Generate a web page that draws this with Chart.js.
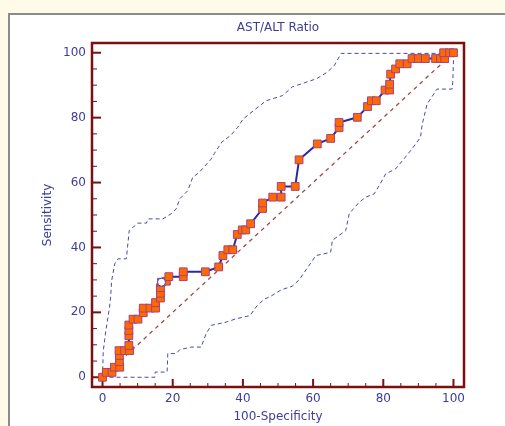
<!DOCTYPE html>
<html>
<head>
<meta charset="utf-8">
<script src="https://cdn.jsdelivr.net/npm/chart.js@4.4.1/dist/chart.umd.min.js"></script>
<style>
  html, body { margin: 0; padding: 0; background: #fffbe8; overflow: hidden; }
  #panel { position: absolute; left: 8px; top: 13px; width: 520px; height: 440px; background: #fff; border: 2px solid #8c8c8c; box-sizing: border-box; }
  #wrap { position: absolute; left: 0; top: 0; width: 505px; height: 426px; }
</style>
</head>
<body>
<div id="panel"></div>
<div id="wrap"><canvas id="roc" width="505" height="426"></canvas></div>
<script>
// ROC curve points (100-Specificity, Sensitivity)
const rocX = [0, 1.1, 2.7, 3.4, 4.9, 4.8, 4.8, 4.7, 6.3, 7.7, 7.5, 7.5, 7.5, 7.5, 8.7, 10.1, 11.6, 11.6, 13.5, 15.1,
  15.1, 16.5, 16.5, 16.5, 16.8, 18.2, 18.9, 23, 23, 29.3, 33.1, 34.3, 35.7, 37.1, 38.4, 39.8, 40.8, 42.2, 45.6, 45.6,
  48.5, 50.9, 50.9, 54.9, 56, 61.2, 65, 67.4, 67.4, 72.6, 75.5, 76.6, 78, 80.5, 81.8, 81.8, 82.1, 83.5, 84.7, 86.8,
  88.2, 90, 92, 94.9, 96.3, 97.5, 97.2, 98.9, 100];
const rocY = [0, 1.5, 1.5, 3.1, 3.1, 4.8, 6.7, 8.2, 8.2, 8.2, 9.8, 12.8, 14.4, 16.1, 17.9, 17.9, 19.9, 21.3, 21.3, 21.3,
  23, 24.4, 25.9, 27.6, 29.3, 29.6, 31, 31, 32.5, 32.5, 34, 37.5, 39.3, 39.3, 44, 45.4, 45.4, 47.3, 52, 53.7,
  55.5, 55.5, 58.8, 58.8, 67, 71.9, 73.6, 76.9, 78.5, 80.1, 83.4, 85.2, 85.2, 88.5, 88.5, 90.3, 93.4, 95, 96.6, 96.6,
  98.2, 98.2, 98.2, 98.2, 98.2, 98.2, 100, 100, 100];

// 95% confidence bounds
const upperX = [0, 0.2, 0.9, 2, 2.3, 2.6, 3.5, 4.4, 6.8, 7.6, 10.1, 12.5, 13, 17.2, 19.6, 21, 22, 24.3, 25.7, 27.6,
  31, 31.9, 34, 36.5, 38.5, 40, 41.8, 44, 46.6, 51.3, 54.1, 58, 61, 64, 66, 68, 100];
const upperY = [0, 8, 14, 21.6, 24.7, 29.8, 35, 36.5, 36.5, 45.2, 47.5, 47.5, 48.8, 48.8, 50.4, 51.9, 55, 57.5, 61.6, 63.2,
  67.3, 69, 72.5, 74.5, 77, 79.5, 81.1, 83, 85.2, 86.8, 89.5, 90.9, 92, 94, 96, 99.8, 99.8];
const lowerX = [0, 14.9, 15, 18.4, 18.6, 21, 22, 25.3, 28.1, 29.5, 31, 35.2, 38, 42, 44, 46, 48, 51, 54, 56,
  60.8, 65, 65.5, 69.3, 70.3, 73.1, 75, 77.4, 78.8, 80.7, 83.5, 85.9, 88.2, 90.6, 91.1, 92.5, 95.3, 99.6, 99.8, 100, 100];
const lowerY = [0, 0, 1.6, 1.6, 7.3, 7.3, 8.5, 9.3, 9.3, 13.4, 16, 17, 18, 19, 22, 24, 25, 27, 28, 30,
  37.5, 38.5, 42.2, 45.2, 50.4, 53.9, 55.5, 56.5, 59, 62.7, 64.2, 67.3, 70.4, 73.9, 78, 84.2, 88.8, 88.8, 90.9, 97.5, 100];

// reference diagonal and the criterion point
const diagX = [0, 100];
const diagY = [0, 100];
const cutX = [16.8];
const cutY = [29.3];

const xTicks = [0, 20, 40, 60, 80, 100];
const yTicks = [0, 20, 40, 60, 80, 100];
const minorStep = 5;

const textColor = '#3d3d98';
const frameColor = '#7a1010';
const font = { family: 'DejaVu Sans', size: 12 };

const pts = (xs, ys) => xs.map((x, i) => ({ x: x, y: ys[i] }));

// box round the plot plus inward tick marks
const framePlugin = {
  id: 'frame',
  beforeDatasetsDraw(chart) {
    const { ctx, chartArea: a, scales: { x, y } } = chart;
    ctx.save();
    ctx.strokeStyle = frameColor;
    ctx.lineWidth = 2.5;
    ctx.strokeRect(a.left, a.top, a.right - a.left, a.bottom - a.top);
    for (let v = 0; v <= 100; v += minorStep) {
      const major = v % 20 === 0;
      ctx.lineWidth = major ? 2 : 1;
      const px = x.getPixelForValue(v);
      ctx.beginPath();
      ctx.moveTo(px, a.bottom);
      ctx.lineTo(px, a.bottom - (major ? 8 : 4));
      ctx.stroke();
      const py = y.getPixelForValue(v);
      ctx.beginPath();
      ctx.moveTo(a.left, py);
      ctx.lineTo(a.left + (major ? 9 : 5), py);
      ctx.stroke();
    }
    ctx.restore();
  },
  afterDraw(chart) {
    const { ctx, chartArea: a } = chart;
    ctx.save();
    ctx.fillStyle = textColor;
    ctx.font = '12px "DejaVu Sans"';
    ctx.textAlign = 'center';
    ctx.textBaseline = 'middle';
    ctx.fillText('AST/ALT Ratio', (a.left + a.right) / 2, 28);
    ctx.restore();
  }
};

new Chart(document.getElementById('roc'), {
  type: 'scatter',
  data: {
    datasets: [
      {
        data: pts(cutX, cutY),
        pointStyle: 'circle',
        pointRadius: 4,
        pointBackgroundColor: '#ffffff',
        pointBorderColor: '#4040b0',
        pointBorderWidth: 1,
        showLine: false
      },
      {
        data: pts(rocX, rocY),
        showLine: true,
        borderColor: '#2b2b9a',
        borderWidth: 2,
        pointStyle: 'rect',
        pointRadius: 5.5,
        pointBackgroundColor: '#ff6a00',
        pointBorderColor: '#a8407e',
        pointBorderWidth: 1
      },
      {
        data: pts(upperX, upperY),
        showLine: true,
        borderColor: '#4848b0',
        borderWidth: 1,
        borderDash: [4, 3],
        pointRadius: 0
      },
      {
        data: pts(lowerX, lowerY),
        showLine: true,
        borderColor: '#4848b0',
        borderWidth: 1,
        borderDash: [4, 3],
        pointRadius: 0
      },
      {
        data: pts(diagX, diagY),
        showLine: true,
        borderColor: '#a04848',
        borderWidth: 1.3,
        borderDash: [4, 4],
        pointRadius: 0
      }
    ]
  },
  options: {
    responsive: false,
    animation: false,
    layout: { padding: { top: 43, right: 41, bottom: 0, left: 34 } },
    plugins: { legend: { display: false }, tooltip: { enabled: false } },
    scales: {
      x: {
        type: 'linear',
        min: -3,
        max: 103,
        afterBuildTicks: s => { s.ticks = xTicks.map(v => ({ value: v })); },
        afterFit: s => { s.height = 39; },
        grid: { display: false, drawTicks: false },
        border: { display: false },
        ticks: { padding: 5, color: textColor, font: font, maxRotation: 0 },
        title: { display: true, text: '100-Specificity', color: textColor, font: font, padding: { top: 0, bottom: 2 } }
      },
      y: {
        type: 'linear',
        min: -3,
        max: 103,
        afterBuildTicks: s => { s.ticks = yTicks.map(v => ({ value: v })); },
        afterFit: s => { s.width = 58; },
        grid: { display: false, drawTicks: false },
        border: { display: false },
        ticks: { padding: 6, color: textColor, font: font },
        title: { display: true, text: 'Sensitivity', color: textColor, font: font, padding: { top: 7, bottom: 0 } }
      }
    }
  },
  plugins: [framePlugin]
});
</script>
</body>
</html>
